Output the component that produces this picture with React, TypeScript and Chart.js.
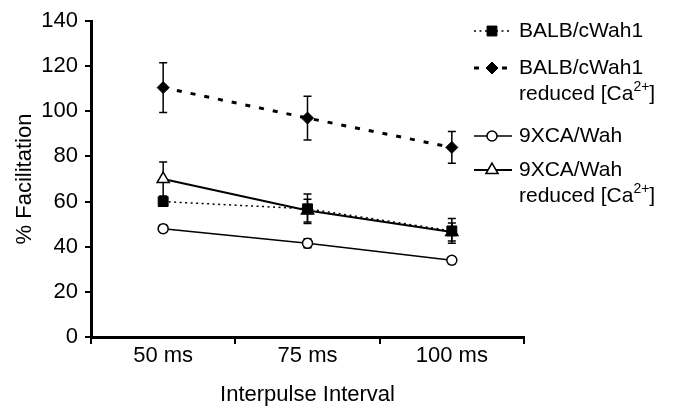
import React, { useEffect, useRef } from 'react';
import { Chart, registerables } from 'chart.js';
import { drawPoint } from 'chart.js/helpers';

Chart.register(...registerables);

const categories = ['50 ms', '75 ms', '100 ms'];

const balb = [60, 56.8, 47];
const balbErr = [2, 6.5, 5.5];

const balbReduced = [110.5, 97, 84];
const balbReducedErr = [11, 9.7, 7];

const xca = [48, 41.5, 34];
const xcaErr = [1.5, 2, 1.5];

const xcaReduced = [70, 56, 46.5];
const xcaReducedErr = [7.5, 5, 4];

const yMin = 0;
const yMax = 140;
const yStep = 20;

const labels = [
  'BALB/cWah1',
  'BALB/cWah1\nreduced [Ca^2+^]',
  '9XCA/Wah',
  '9XCA/Wah\nreduced [Ca^2+^]',
];

const FONT = '"Liberation Sans", Arial, Helvetica, sans-serif';

const errorBarPlugin = {
  id: 'errorBars',
  beforeDatasetsDraw(chart: any) {
    const ctx = chart.ctx;
    const yScale = chart.scales.y;
    chart.data.datasets.forEach((ds: any, i: number) => {
      const meta = chart.getDatasetMeta(i);
      const errs = ds.errors || [];
      meta.data.forEach((pt: any, j: number) => {
        const v = ds.data[j];
        const e = errs[j];
        if (e == null) return;
        const x = pt.x;
        const yTop = yScale.getPixelForValue(v + e);
        const yBot = yScale.getPixelForValue(v - e);
        ctx.save();
        ctx.strokeStyle = '#000';
        ctx.lineWidth = 1.5;
        ctx.setLineDash([]);
        ctx.beginPath();
        ctx.moveTo(x, yTop);
        ctx.lineTo(x, yBot);
        ctx.moveTo(x - 4, yTop);
        ctx.lineTo(x + 4, yTop);
        ctx.moveTo(x - 4, yBot);
        ctx.lineTo(x + 4, yBot);
        ctx.stroke();
        ctx.restore();
      });
    });
  },
};

function drawRichText(ctx: CanvasRenderingContext2D, text: string, x: number, y: number, size: number) {
  const parts = text.split('^');
  let cx = x;
  parts.forEach((p, k) => {
    if (!p) return;
    const sup = k % 2 === 1;
    ctx.font = `${sup ? Math.round(size * 0.68) : size}px ${FONT}`;
    ctx.fillText(p, cx, sup ? y - size * 0.33 : y);
    cx += ctx.measureText(p).width;
  });
}

const legendPlugin = {
  id: 'customLegend',
  afterDraw(chart: any) {
    const ctx = chart.ctx;
    const area = chart.chartArea;
    const x0 = area.right - 50;
    const x1 = area.right - 12;
    const xm = area.right - 32;
    const xt = area.right - 5;
    const rowY = [31, 68, 136, 170];
    const lineGap = 26;
    chart.data.datasets.forEach((ds: any, i: number) => {
      const y = rowY[i];
      ctx.save();
      ctx.strokeStyle = ds.borderColor;
      ctx.lineWidth = ds.borderWidth;
      ctx.setLineDash(ds.borderDash || []);
      ctx.beginPath();
      ctx.moveTo(x0, y);
      ctx.lineTo(x1, y);
      ctx.stroke();
      ctx.setLineDash([]);
      ctx.fillStyle = ds.pointBackgroundColor;
      ctx.strokeStyle = ds.pointBorderColor;
      ctx.lineWidth = ds.pointBorderWidth;
      drawPoint(ctx, {
        pointStyle: ds.pointStyle,
        rotation: 0,
        radius: ds.pointRadius,
        borderWidth: ds.pointBorderWidth,
      }, xm, y);
      ctx.fillStyle = '#000';
      ctx.textBaseline = 'middle';
      ctx.textAlign = 'left';
      const lines = String(ds.label).split('\n');
      lines.forEach((ln, k) => {
        drawRichText(ctx, ln, xt, y + k * lineGap, 21);
      });
      ctx.restore();
    });
  },
};

export default function App() {
  const ref = useRef<HTMLCanvasElement | null>(null);

  useEffect(() => {
    if (!ref.current) return;
    const chart = new Chart(ref.current, {
      type: 'line',
      data: {
        labels: categories,
        datasets: [
          {
            label: labels[0],
            data: balb,
            errors: balbErr,
            borderColor: '#000',
            borderWidth: 1.5,
            borderDash: [2, 3.5],
            pointStyle: 'rect',
            pointRadius: 7,
            pointBackgroundColor: '#000',
            pointBorderColor: '#000',
            pointBorderWidth: 1,
          },
          {
            label: labels[1],
            data: balbReduced,
            errors: balbReducedErr,
            borderColor: '#000',
            borderWidth: 3,
            borderDash: [5, 9],
            pointStyle: 'rectRot',
            pointRadius: 6,
            pointBackgroundColor: '#000',
            pointBorderColor: '#000',
            pointBorderWidth: 1,
          },
          {
            label: labels[2],
            data: xca,
            errors: xcaErr,
            borderColor: '#000',
            borderWidth: 1.5,
            pointStyle: 'circle',
            pointRadius: 5,
            pointBackgroundColor: '#fff',
            pointBorderColor: '#000',
            pointBorderWidth: 1.5,
          },
          {
            label: labels[3],
            data: xcaReduced,
            errors: xcaReducedErr,
            borderColor: '#000',
            borderWidth: 2,
            pointStyle: 'triangle',
            pointRadius: 7,
            pointBackgroundColor: '#fff',
            pointBorderColor: '#000',
            pointBorderWidth: 1.5,
          },
        ] as any,
      },
      options: {
        animation: false,
        responsive: true,
        maintainAspectRatio: false,
        layout: { padding: { top: 21, right: 149, left: 0, bottom: 0 } },
        plugins: {
          legend: { display: false },
          tooltip: { enabled: false },
        },
        scales: {
          x: {
            type: 'category',
            offset: true,
            grid: {
              offset: true,
              drawOnChartArea: false,
              drawTicks: true,
              tickLength: 7,
              color: '#000',
              lineWidth: 2,
            },
            border: { color: '#000', width: 3 },
            ticks: {
              color: '#000',
              font: { size: 22, family: FONT },
              padding: -1,
              maxRotation: 0,
            },
            title: {
              display: true,
              text: 'Interpulse Interval',
              color: '#000',
              font: { size: 22, family: FONT },
              padding: { top: 0, bottom: 1 },
            },
            afterFit: (s: any) => {
              s.height = 72;
            },
          },
          y: {
            min: yMin,
            max: yMax,
            grid: {
              drawOnChartArea: false,
              drawTicks: true,
              tickLength: 6,
              color: '#000',
              lineWidth: 2,
            },
            border: { color: '#000', width: 3 },
            ticks: {
              stepSize: yStep,
              color: '#000',
              font: { size: 22, family: FONT },
              padding: 7,
            },
            title: {
              display: true,
              text: '% Facilitation',
              color: '#000',
              font: { size: 22, family: FONT },
              padding: { top: 12, bottom: 0 },
            },
            afterFit: (s: any) => {
              s.width = 91;
            },
          },
        },
      } as any,
      plugins: [errorBarPlugin, legendPlugin],
    });
    return () => chart.destroy();
  }, []);

  return (
    <div style={{ position: 'absolute', left: 0, top: 0, width: 673, height: 409, background: '#fff' }}>
      <canvas ref={ref} />
    </div>
  );
}
